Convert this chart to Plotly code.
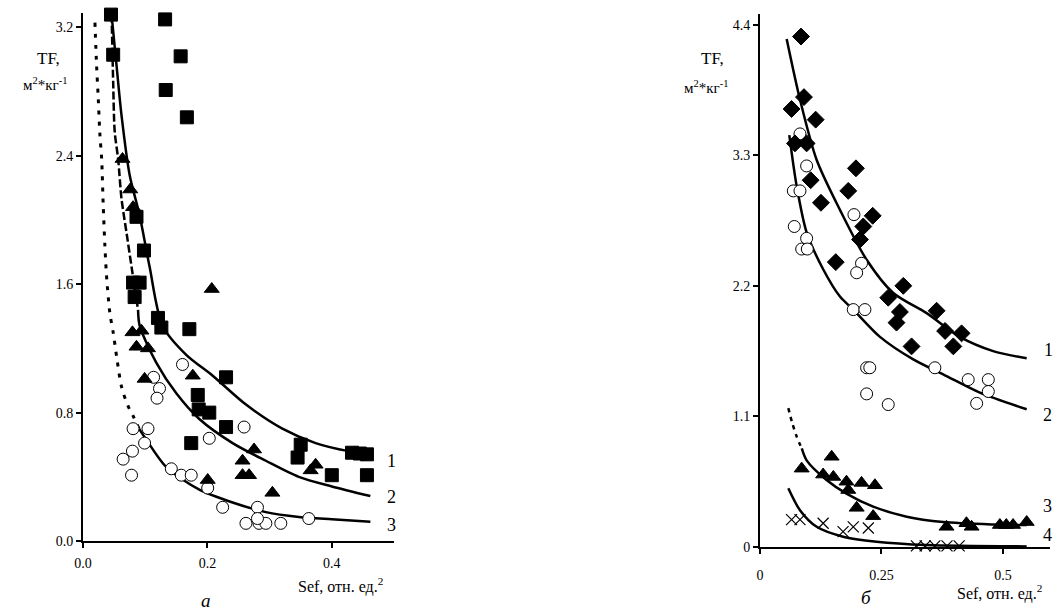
import plotly.graph_objects as go

# ---------------- Panel "а" (left) ----------------
a_sq_x = [0.132, 0.157, 0.133, 0.167, 0.045, 0.0485, 0.086, 0.098, 0.0805, 0.091, 0.083,
          0.1205, 0.126, 0.171, 0.23, 0.1845, 0.186, 0.203, 0.23, 0.174, 0.35, 0.345,
          0.4325, 0.4565, 0.40, 0.4565, 0.445]
a_sq_y = [3.25, 3.02, 2.81, 2.64, 3.28, 3.03, 2.02, 1.81, 1.61, 1.61, 1.52,
          1.39, 1.33, 1.32, 1.02, 0.91, 0.82, 0.80, 0.71, 0.61, 0.60, 0.52,
          0.55, 0.54, 0.41, 0.41, 0.545]

a_tr_x = [0.0635, 0.076, 0.0805, 0.207, 0.0795, 0.094, 0.086, 0.1045, 0.099, 0.1765,
          0.275, 0.2565, 0.267, 0.2565, 0.2005, 0.3045, 0.374, 0.366]
a_tr_y = [2.38, 2.19, 2.08, 1.57, 1.30, 1.31, 1.21, 1.20, 1.01, 1.03,
          0.57, 0.50, 0.41, 0.41, 0.38, 0.30, 0.475, 0.44]

a_ci_x = [0.16, 0.1135, 0.123, 0.119, 0.0805, 0.1045, 0.259, 0.203, 0.099, 0.0645,
          0.0795, 0.078, 0.142, 0.158, 0.174, 0.2005, 0.2245, 0.2805, 0.262, 0.283,
          0.294, 0.318, 0.2805, 0.363]
a_ci_y = [1.10, 1.02, 0.95, 0.89, 0.70, 0.70, 0.71, 0.64, 0.61, 0.51,
          0.56, 0.41, 0.45, 0.41, 0.41, 0.33, 0.21, 0.21, 0.11, 0.11,
          0.11, 0.11, 0.14, 0.14]

# fitted curves
a_c1_x = [0.0459, 0.054, 0.062, 0.075, 0.091, 0.107, 0.128, 0.166, 0.2085, 0.262, 0.3205, 0.374, 0.427, 0.467]
a_c1_y = [3.28, 2.96, 2.65, 2.28, 2.03, 1.71, 1.34, 1.16, 1.03, 0.85, 0.70, 0.61, 0.56, 0.54]

a_c2d_x = [0.046, 0.0485, 0.051, 0.0565, 0.062, 0.07, 0.078, 0.0885]
a_c2d_y = [3.28, 2.86, 2.55, 2.38, 2.13, 1.92, 1.71, 1.44]
a_c2_x = [0.0885, 0.0912, 0.118, 0.15, 0.187, 0.2405, 0.294, 0.347, 0.40, 0.462]
a_c2_y = [1.44, 1.34, 1.11, 0.92, 0.76, 0.61, 0.50, 0.40, 0.34, 0.28]

a_c3d_x = [0.0192, 0.0219, 0.0245, 0.0272, 0.030, 0.0325, 0.0352, 0.0379, 0.0432, 0.0485,
           0.054, 0.062, 0.0725, 0.0805, 0.09]
a_c3d_y = [3.23, 2.96, 2.76, 2.53, 2.38, 2.09, 1.84, 1.65, 1.42, 1.30,
           1.15, 0.96, 0.84, 0.78, 0.70]
a_c3_x = [0.09, 0.102, 0.134, 0.187, 0.2405, 0.294, 0.347, 0.40, 0.462]
a_c3_y = [0.70, 0.63, 0.46, 0.32, 0.24, 0.18, 0.15, 0.135, 0.12]

# ---------------- Panel "б" (right) ----------------
b_di_x = [0.0844, 0.0905, 0.065, 0.1146, 0.072, 0.096, 0.1975, 0.1043, 0.1817, 0.1255,
          0.232, 0.2126, 0.2058, 0.156, 0.295, 0.264, 0.288, 0.281, 0.3636, 0.381,
          0.415, 0.398, 0.312]
b_di_y = [4.30, 3.79, 3.69, 3.60, 3.40, 3.40, 3.19, 3.09, 3.00, 2.90,
          2.79, 2.70, 2.59, 2.40, 2.20, 2.10, 1.98, 1.89, 1.99, 1.82,
          1.80, 1.69, 1.69]

b_ci_x = [0.0823, 0.096, 0.0686, 0.0823, 0.0706, 0.096, 0.0858, 0.0974, 0.1934, 0.209,
          0.199, 0.192, 0.216, 0.2195, 0.226, 0.2195, 0.264, 0.360, 0.4286, 0.47,
          0.47, 0.446]
b_ci_y = [3.48, 3.21, 3.00, 3.00, 2.70, 2.60, 2.51, 2.51, 2.80, 2.39,
          2.31, 2.00, 2.00, 1.51, 1.51, 1.29, 1.20, 1.51, 1.41, 1.41,
          1.31, 1.21]

b_tr_x = [0.0858, 0.1475, 0.130, 0.151, 0.178, 0.1817, 0.209, 0.2366, 0.199, 0.233,
          0.384, 0.425, 0.4356, 0.4938, 0.507, 0.521, 0.549]
b_tr_y = [0.66, 0.76, 0.61, 0.59, 0.55, 0.48, 0.54, 0.52, 0.33, 0.26,
          0.17, 0.20, 0.17, 0.185, 0.185, 0.185, 0.21]

b_cr_x = [0.065, 0.0823, 0.130, 0.171, 0.192, 0.223, 0.322, 0.34, 0.36, 0.385, 0.41]
b_cr_y = [0.23, 0.23, 0.20, 0.13, 0.17, 0.16, 0.01, 0.01, 0.01, 0.01, 0.01]

b_c1_x = [0.0549, 0.0823, 0.1167, 0.1646, 0.2195, 0.2744, 0.343, 0.4115, 0.48, 0.549]
b_c1_y = [4.28, 3.77, 3.26, 2.84, 2.42, 2.14, 1.97, 1.77, 1.65, 1.59]

b_c2_x = [0.0603, 0.0755, 0.096, 0.130, 0.1646, 0.192, 0.247, 0.3155, 0.384, 0.4527, 0.549]
b_c2_y = [3.47, 3.04, 2.65, 2.34, 2.11, 2.00, 1.77, 1.58, 1.44, 1.30, 1.16]

b_c3d_x = [0.0583, 0.066, 0.0755, 0.086]
b_c3d_y = [1.17, 1.05, 0.93, 0.83]
b_c3_x = [0.086, 0.096, 0.137, 0.178, 0.233, 0.302, 0.377, 0.48, 0.549]
b_c3_y = [0.83, 0.73, 0.565, 0.45, 0.34, 0.255, 0.21, 0.19, 0.185]

b_c4_x = [0.0583, 0.0823, 0.1167, 0.171, 0.24, 0.343, 0.549]
b_c4_y = [0.495, 0.31, 0.17, 0.087, 0.045, 0.017, 0.005]

W, H = 1062, 611
def px(x):
    return x / W
def py(y):
    return 1 - y / H

FONT = "Liberation Serif"
fig = go.Figure()

def mk(x, y, sym, size, axis, color="black", lw=1):
    xa, ya = axis
    fig.add_trace(go.Scatter(
        x=x, y=y, mode="markers", xaxis=xa, yaxis=ya, showlegend=False,
        marker=dict(symbol=sym, size=size, color=color,
                    line=dict(color="black", width=lw)),
        cliponaxis=False))

def ln(x, y, axis, dash="solid", width=2.5):
    xa, ya = axis
    fig.add_trace(go.Scatter(
        x=x, y=y, mode="lines", xaxis=xa, yaxis=ya, showlegend=False,
        line=dict(color="black", width=width, dash=dash, shape="spline", smoothing=0.8),
        cliponaxis=False))

A = ("x", "y")
B = ("x2", "y2")

# left panel curves
ln(a_c3d_x, a_c3d_y, A, dash="4px,7px", width=3)
ln(a_c3_x, a_c3_y, A)
ln(a_c2d_x, a_c2d_y, A, dash="8px,3px", width=2.5)
ln(a_c2_x, a_c2_y, A)
ln(a_c1_x, a_c1_y, A)
# left markers
mk(a_ci_x, a_ci_y, "circle", 12, A, color="white", lw=1)
mk(a_tr_x, a_tr_y, "triangle-up", 13, A)
mk(a_sq_x, a_sq_y, "square", 13, A)

# right panel curves
ln(b_c1_x, b_c1_y, B)
ln(b_c2_x, b_c2_y, B)
ln(b_c3d_x, b_c3d_y, B, dash="4px,5px", width=2.5)
ln(b_c3_x, b_c3_y, B)
ln(b_c4_x, b_c4_y, B)
# right markers
mk(b_ci_x, b_ci_y, "circle", 12, B, color="white", lw=1)
mk(b_di_x, b_di_y, "diamond", 13, B)
mk(b_tr_x, b_tr_y, "triangle-up", 13, B)
mk(b_cr_x, b_cr_y, "x-thin", 11, B, color="black", lw=1.2)

axis_common = dict(showline=True, linecolor="black", linewidth=2, showgrid=False,
                   zeroline=False, ticks="outside", ticklen=5, tickwidth=1.5,
                   tickcolor="black", automargin=False,
                   tickfont=dict(family=FONT, size=14, color="black"))

fig.update_layout(
    width=W, height=H, margin=dict(l=0, r=0, t=0, b=0, autoexpand=False),
    paper_bgcolor="white", plot_bgcolor="white", showlegend=False,
    xaxis=dict(domain=[px(83), px(394)], range=[0, 0.5], anchor="y",
               tickvals=[0, 0.2, 0.4], ticktext=["0.0", "0.2", "0.4"],
               ticklabelstandoff=3, **axis_common),
    yaxis=dict(domain=[py(541), py(13)], range=[0, 3.29], anchor="x",
               tickvals=[0, 0.8, 1.6, 2.4, 3.2], ticktext=["0.0", "0.8", "1.6", "2.4", "3.2"],
               **axis_common),
    xaxis2=dict(domain=[px(760), px(1050)], range=[0, 0.597], anchor="y2",
                tickvals=[0, 0.25, 0.5], ticktext=["0", "0.25", "0.5"],
                ticklabelstandoff=9, **axis_common),
    yaxis2=dict(domain=[py(547), py(14)], range=[0, 4.49], anchor="x2",
                tickvals=[0, 1.1, 2.2, 3.3, 4.4], ticktext=["0", "1.1", "2.2", "3.3", "4.4"],
                **axis_common),
)

def ann(text, x, y, size=14, italic=False, xanchor="center"):
    fig.add_annotation(text=("<i>%s</i>" % text) if italic else text,
                       x=px(x), y=py(y), xref="paper", yref="paper",
                       xanchor=xanchor, yanchor="middle", showarrow=False,
                       font=dict(family=FONT, size=size, color="black"))

# axis titles
ann("TF,", 48, 58, size=17)
ann("м<sup>2</sup>*кг<sup>-1</sup>", 45, 84, size=15)
ann("TF,", 712, 58, size=17)
ann("м<sup>2</sup>*кг<sup>-1</sup>", 706, 87, size=15)
ann("Sef, отн. ед.<sup>2</sup>", 340, 585, size=16)
ann("Sef, отн. ед.<sup>2</sup>", 1000, 592, size=16)
ann("а", 206, 600, size=19, italic=True)
ann("б", 866, 597, size=19, italic=True)

# curve numbers
for t, x, y in [("1", 391, 461), ("2", 391, 497), ("3", 391, 525)]:
    ann(t, x, y, size=18)
for t, x, y in [("1", 1048, 350), ("2", 1047, 415), ("3", 1047, 506), ("4", 1047, 535)]:
    ann(t, x, y, size=18)

fig.write_html("out.html", config={"displayModeBar": False},
               post_script="document.body.style.margin='0px';document.body.style.overflow='hidden';")
